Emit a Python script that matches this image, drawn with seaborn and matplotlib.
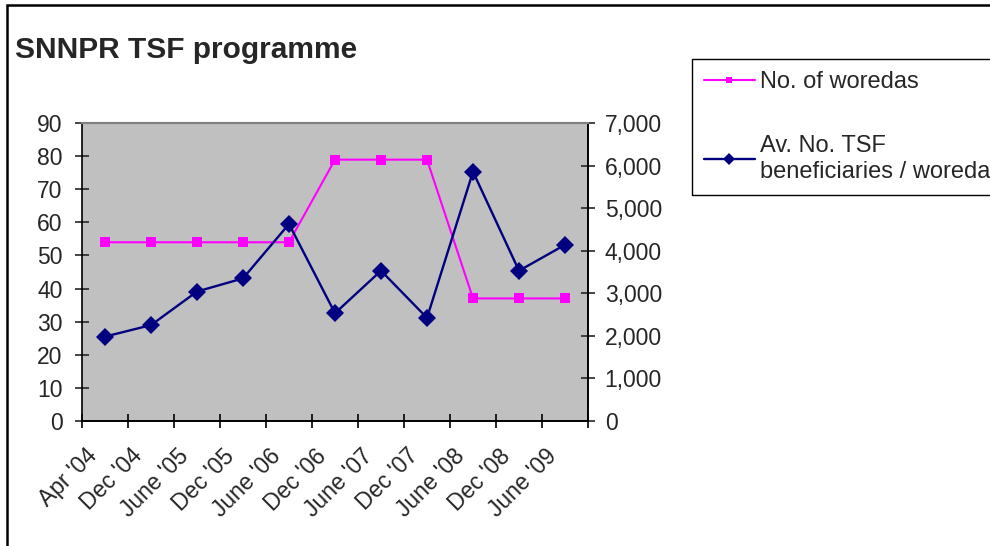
import matplotlib
matplotlib.use("Agg")
import matplotlib.pyplot as plt
from matplotlib.patches import Rectangle
from matplotlib.ticker import FuncFormatter, FixedLocator
from matplotlib.transforms import ScaledTranslation
import numpy as np
import pandas as pd
import seaborn as sns

# Survey rounds of the SNNPR TSF programme
periods = ["Apr '04", "Dec '04", "June '05", "Dec '05", "June '06", "Dec '06",
           "June '07", "Dec '07", "June '08", "Dec '08", "June '09"]
woredas = [54, 54, 54, 54, 54, 79, 79, 79, 37, 37, 37]
beneficiaries = [1980, 2250, 3040, 3350, 4630, 2530, 3530, 2420, 5860, 3530, 4140]

woreda_label = "No. of woredas"
benef_label = "Av. No. TSF\nbeneficiaries / woreda"

df = pd.DataFrame({
    "pos": np.arange(len(periods)),
    "period": periods,
    "woredas": woredas,
    "beneficiaries": beneficiaries,
})

sns.set_style("ticks")
plt.rcParams["font.family"] = ["Liberation Sans", "DejaVu Sans"]

FS = 16.5
W, H = 990, 546
fig = plt.figure(figsize=(W / 100, H / 100), dpi=100)
fig.patch.set_facecolor("white")

# outer chart frame (continues past the right and bottom edges)
fig.patches.append(Rectangle((7 / W, -0.5), 2.0, 1.5 - 5 / H, transform=fig.transFigure,
                             fill=False, edgecolor="black", linewidth=1.8, zorder=0))

ax = fig.add_axes([82 / W, (H - 420.7) / H, (588 - 82) / W, (420.7 - 123.3) / H])
ax.set_facecolor("#C0C0C0")
ax2 = ax.twinx()

sns.lineplot(data=df, x="pos", y="woredas", ax=ax, color="#FF00FF", linewidth=1.5,
             marker="s", markersize=7.6, markeredgewidth=0, label=woreda_label, legend=False)
sns.lineplot(data=df, x="pos", y="beneficiaries", ax=ax2, color="#000080", linewidth=1.7,
             marker="D", markersize=8.8, markeredgewidth=0, label=benef_label, legend=False)

n = len(periods)
ax.set_xlim(-0.5, n - 0.5)
ax.set_ylim(0, 90)
ax2.set_ylim(0, 7000)
ax.set_yticks(np.arange(0, 91, 10))
ax2.set_yticks(np.arange(0, 7001, 1000))
ax2.yaxis.set_major_formatter(FuncFormatter(lambda v, p: f"{int(v):,}"))

# category boundaries get tick marks, category centres get the labels
ax.xaxis.set_major_locator(FixedLocator(np.arange(-0.5, n, 1.0)))
ax.xaxis.set_minor_locator(FixedLocator(np.arange(n)))
ax.set_xticklabels([""] * (n + 1))
ax.set_xticklabels(periods, minor=True, rotation=45, ha="right", rotation_mode="anchor")
ax.tick_params(axis="x", which="minor", length=0, pad=12, labelsize=FS)
ax.tick_params(axis="x", which="major", direction="inout", length=10, width=1.2, color="black")
ax.tick_params(axis="y", direction="inout", length=10, width=1.2, pad=9, labelsize=FS)
ax2.tick_params(axis="y", direction="inout", length=10, width=1.2, pad=7, labelsize=FS)

shift = ScaledTranslation(-20 / 100, -7 / 100, fig.dpi_scale_trans)
for lbl in ax.get_xticklabels(minor=True):
    lbl.set_transform(lbl.get_transform() + shift)

for a in (ax, ax2):
    a.set_xlabel("")
    a.set_ylabel("")
    for s in a.spines.values():
        s.set_linewidth(1.2)
        s.set_color("black")
    a.spines["top"].set_color("#808080")
    a.spines["top"].set_linewidth(1.5)
ax2.spines["left"].set_visible(False)

fig.text(15 / W, 1 - 58 / H, "SNNPR TSF programme", fontsize=21.5, fontweight="bold",
         ha="left", va="baseline")

h1, l1 = ax.get_legend_handles_labels()
h2, l2 = ax2.get_legend_handles_labels()
leg = fig.legend(h1 + h2, l1 + l2, loc="upper left",
                 bbox_to_anchor=(692 / W, 1 - 59 / H), bbox_transform=fig.transFigure,
                 fontsize=17, frameon=True, fancybox=False, framealpha=1,
                 edgecolor="black", handlelength=2.15, handletextpad=0.25,
                 labelspacing=1.8, borderpad=0.5, borderaxespad=0, markerscale=0.65)
leg.get_frame().set_linewidth(1.0)

fig.savefig("out.png", dpi=100, facecolor="white")
